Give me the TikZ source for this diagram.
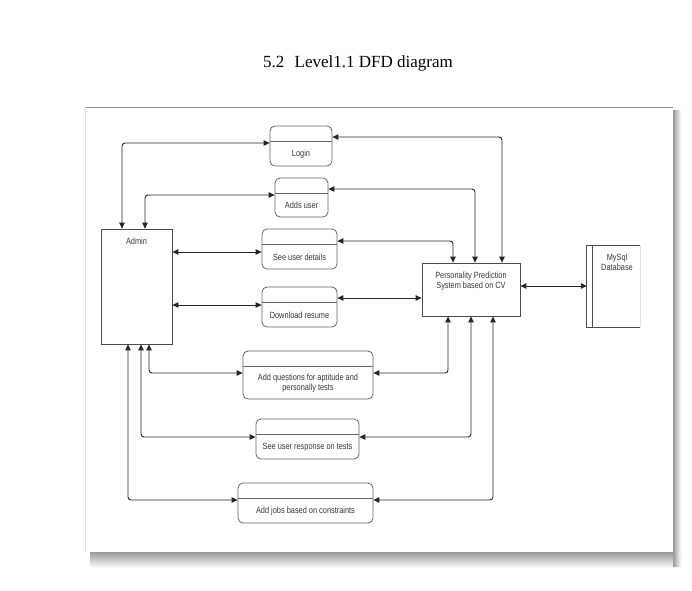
\documentclass[tikz,border=0pt]{standalone}
\usepackage{fontspec}
\setmainfont{Liberation Serif}
\newfontfamily\dfdfont[FakeStretch=0.82]{Liberation Sans}
\usetikzlibrary{arrows.meta,calc}

% process box: name, centre x, centre y, width, height, text
\newcommand\procbox[6]{%
  \node[procshape, minimum width=#4pt, minimum height=#5pt] (#1) at (#2,#3) {};
  \draw[divline] ([yshift=-16pt]#1.north west) -- ([yshift=-16pt]#1.north east);
  \node[dfdtext] (#1-t) at ($(#1.south)!0.5!([yshift=-16pt]#1.north)$) {#6};
}

\begin{document}
\begin{tikzpicture}[x=1pt,y=-1pt,
  flow/.style={draw=black!85, line width=0.9pt, rounded corners=3pt,
    {Triangle[length=6pt,width=5.5pt]}-{Triangle[length=6pt,width=5.5pt]}},
  procshape/.style={draw=black!60, line width=0.8pt, rounded corners=5pt, fill=white, inner sep=0pt},
  divline/.style={draw=black!60, line width=0.8pt},
  dfdtext/.style={font=\dfdfont\fontsize{9}{10}\selectfont, text=black!78, align=center, inner sep=0pt},
  entity/.style={draw=black!70, line width=0.8pt, fill=white, inner sep=0pt},
]
\useasboundingbox (0,0) rectangle (692,590);
\fill[white] (0,0) rectangle (692,590);

% page frame with its drop shadow
\shade[top color=black!40, bottom color=white] (90,552) rectangle (681,568);
\shade[left color=black!40, right color=white] (673,110) rectangle (681,566);
\fill[white] (85,107) rectangle (673,552);
\draw[black!45, line width=0.8pt] (85,107) -- (673,107);
\draw[black!12] (85,107) -- (85,552);

% heading
\node[font=\fontsize{17}{20}\selectfont, anchor=base, inner sep=0pt] (title) at (358,67.5)
  {5.2\hspace{0.6em}Level1.1 DFD diagram};

% external entity
\node[entity, minimum width=71pt, minimum height=115pt] (admin) at (136.5,286.5) {};
\node[dfdtext, anchor=base] (admin-t) at (136.5,244) {Admin};

% system
\node[entity, minimum width=98pt, minimum height=53pt] (pps) at (471,289.5) {};
\node[dfdtext, anchor=north] (pps-t) at (471,271.5) {Personality Prediction\\System based on CV};

% data store
\node[inner sep=0pt, minimum width=53pt, minimum height=81pt] (db) at (613.5,286.5) {};
\draw[black!12, line width=0.8pt] (db.north east) -- (db.south east);
\draw[black!70, line width=0.8pt] (db.north east) -- (db.north west) -- (db.south west) -- (db.south east);
\draw[black!70, line width=0.8pt] ([xshift=6pt]db.north west) -- ([xshift=6pt]db.south west);
\node[dfdtext, anchor=north] (db-t) at (617,254) {MySql\\Database};

% processes
\procbox{login}{301}{146}{62}{40}{Login}
\procbox{adds}{301.5}{197.5}{53}{39}{Adds user}
\procbox{details}{299.5}{249}{75}{40}{See user details}
\procbox{download}{299.5}{307}{75}{40}{Download resume}
\procbox{quest}{308}{375}{130}{48}{Add questions for aptitude and\\personally tests}
\procbox{resp}{307.5}{439}{103}{40}{See user response on tests}
\procbox{jobs}{305.5}{503}{135}{40}{Add jobs based on constraints}

% bend points of the flows
\coordinate (c1) at (122,143);
\coordinate (c2) at (145,195);
\coordinate (c3) at (0,252);
\coordinate (c4) at (0,305);
\coordinate (c5) at (149,373);
\coordinate (c6) at (141,437);
\coordinate (c7) at (128,500);
\coordinate (r1) at (502,137);
\coordinate (r2) at (475,189);
\coordinate (r3) at (453,241);
\coordinate (r4) at (0,298);
\coordinate (r5) at (448,373);
\coordinate (r6) at (471,437);
\coordinate (r7) at (493,500);
\coordinate (r8) at (0,286);

% admin side
\draw[flow] (admin.north -| c1) |- (login.west |- c1);
\draw[flow] (admin.north -| c2) |- (adds.west |- c2);
\draw[flow] (admin.east |- c3) -- (details.west |- c3);
\draw[flow] (admin.east |- c4) -- (download.west |- c4);
\draw[flow] (admin.south -| c5) |- (quest.west |- c5);
\draw[flow] (admin.south -| c6) |- (resp.west |- c6);
\draw[flow] (admin.south -| c7) |- (jobs.west |- c7);

% system side
\draw[flow] (pps.north -| r1) |- (login.east |- r1);
\draw[flow] (pps.north -| r2) |- (adds.east |- r2);
\draw[flow] (pps.north -| r3) |- (details.east |- r3);
\draw[flow] (pps.west |- r4) -- (download.east |- r4);
\draw[flow] (pps.south -| r5) |- (quest.east |- r5);
\draw[flow] (pps.south -| r6) |- (resp.east |- r6);
\draw[flow] (pps.south -| r7) |- (jobs.east |- r7);
\draw[flow] (pps.east |- r8) -- (db.west |- r8);
\end{tikzpicture}
\end{document}
